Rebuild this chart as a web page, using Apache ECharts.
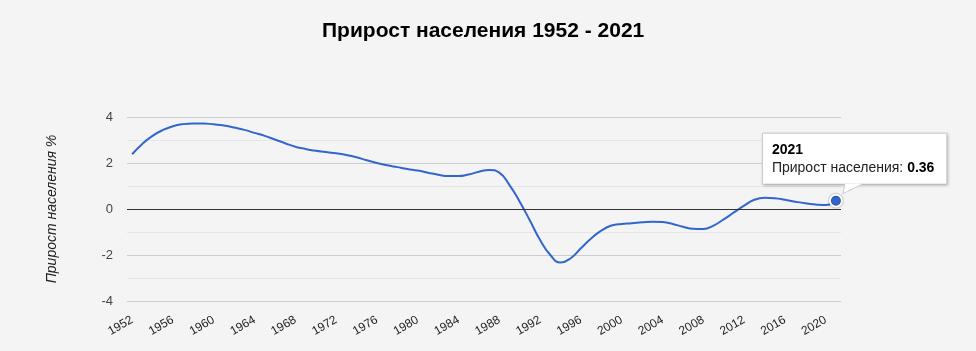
<!DOCTYPE html>
<html>
<head>
<meta charset="utf-8">
<script src="https://cdn.jsdelivr.net/npm/echarts@6/dist/echarts.min.js"></script>
<style>
  html, body { margin: 0; padding: 0; background: #f4f4f4; }
  #chart { width: 976px; height: 351px; }
</style>
</head>
<body>
<div id="chart"></div>
<script>
// годы 1952 - 2021
var years = []
for (var y = 1952; y <= 2021; y++) years.push(String(y))

// прирост населения, %
var growth = [
  2.38, 2.83, 3.18, 3.43, 3.60, 3.69, 3.72, 3.72, 3.68, 3.63,
  3.54, 3.44, 3.31, 3.18, 3.02, 2.86, 2.71, 2.61, 2.53, 2.48,
  2.42, 2.35, 2.25, 2.12, 2.00, 1.90, 1.82, 1.74, 1.67, 1.58,
  1.49, 1.43, 1.43, 1.50, 1.62, 1.70, 1.58, 1.04, 0.32, -0.50,
  -1.35, -2.00, -2.33, -2.14, -1.71, -1.28, -0.94, -0.72, -0.65, -0.62,
  -0.58, -0.55, -0.57, -0.65, -0.77, -0.86, -0.87, -0.72, -0.45, -0.15,
  0.15, 0.40, 0.49, 0.47, 0.40, 0.32, 0.25, 0.20, 0.17, 0.36
]

var seriesName = 'Прирост населения'
var titleText = 'Прирост населения 1952 - 2021'
var yName = 'Прирост населения %'

var font = 'Arial, "Liberation Sans", sans-serif'
var last = growth.length - 1

var lineData = growth.map(function (v, i) {
  if (i !== last) return v
  return {
    value: v,
    symbol: 'circle',
    symbolSize: 12,
    itemStyle: {
      color: '#3366cc',
      borderColor: '#ffffff',
      borderWidth: 2,
      shadowColor: 'rgba(0,0,0,0.45)',
      shadowBlur: 2
    },
    label: {
      show: true,
      position: [-66, -60],
      align: 'left',
      verticalAlign: 'top',
      backgroundColor: '#ffffff',
      borderColor: '#cccccc',
      borderWidth: 1,
      shadowColor: 'rgba(0,0,0,0.2)',
      shadowBlur: 3,
      shadowOffsetX: 1,
      shadowOffsetY: 1,
      padding: [7, 12, 7, 9],
      formatter: '{t|' + years[last] + '}\n{n|' + seriesName + ': }{b|' + v + '}',
      rich: {
        t: { fontFamily: font, fontSize: 14, fontWeight: 'bold', color: '#000', lineHeight: 18 },
        n: { fontFamily: font, fontSize: 14, color: '#222', lineHeight: 18 },
        b: { fontFamily: font, fontSize: 14, fontWeight: 'bold', color: '#000', lineHeight: 18 }
      }
    }
  }
})

var chart = echarts.init(document.getElementById('chart'))
var option = {
  backgroundColor: '#f4f4f4',
  animation: false,
  title: {
    text: titleText,
    left: 317,
    top: 16,
    textStyle: { fontFamily: font, fontSize: 21, fontWeight: 'bold', color: '#000' }
  },
  grid: { left: 127, right: 135, top: 117, bottom: 50 },
  xAxis: {
    type: 'category',
    boundaryGap: true,
    data: years,
    axisLine: { show: false },
    axisTick: { show: false },
    axisLabel: {
      interval: 3,
      rotate: 30,
      margin: 18,
      fontFamily: font,
      fontSize: 12,
      color: '#222'
    },
    splitLine: { show: false }
  },
  yAxis: {
    type: 'value',
    min: -4,
    max: 4,
    interval: 2,
    name: yName,
    nameLocation: 'middle',
    nameRotate: 90,
    nameGap: 68,
    nameTextStyle: { fontFamily: font, fontSize: 14, fontStyle: 'italic', color: '#222' },
    axisLine: { show: false },
    axisTick: { show: false },
    axisLabel: { margin: 14, fontFamily: font, fontSize: 13, color: '#444' },
    splitLine: { lineStyle: { color: '#cccccc' } },
    minorTick: { show: false, splitNumber: 2 },
    minorSplitLine: { show: true, lineStyle: { color: '#e6e6e6' } }
  },
  series: [
    {
      name: seriesName,
      type: 'line',
      smooth: true,
      symbol: 'none',
      data: lineData,
      lineStyle: { color: '#3366cc', width: 2 },
      markLine: {
        silent: true,
        symbol: 'none',
        label: { show: false },
        lineStyle: { color: '#333', width: 1, type: 'solid' },
        data: [{ yAxis: 0 }]
      },
      z: 3
    }
  ]
}
chart.setOption(option)

// хвостик подсказки к последней точке
var p = chart.convertToPixel({ seriesIndex: 0 }, [last, growth[last]])
var tip = [p[0] + 7, p[1] - 7]
var b1 = [p[0] + 9, p[1] - 17]
var b2 = [p[0] + 27, p[1] - 17]
chart.setOption({
  graphic: [
    {
      type: 'polygon', z: 100,
      shape: { points: [b1, tip, b2] },
      style: { fill: '#ffffff' }
    },
    {
      type: 'polyline', z: 101,
      shape: { points: [b1, tip, b2] },
      style: { stroke: '#cccccc', lineWidth: 1, fill: null }
    }
  ]
})
</script>
</body>
</html>
